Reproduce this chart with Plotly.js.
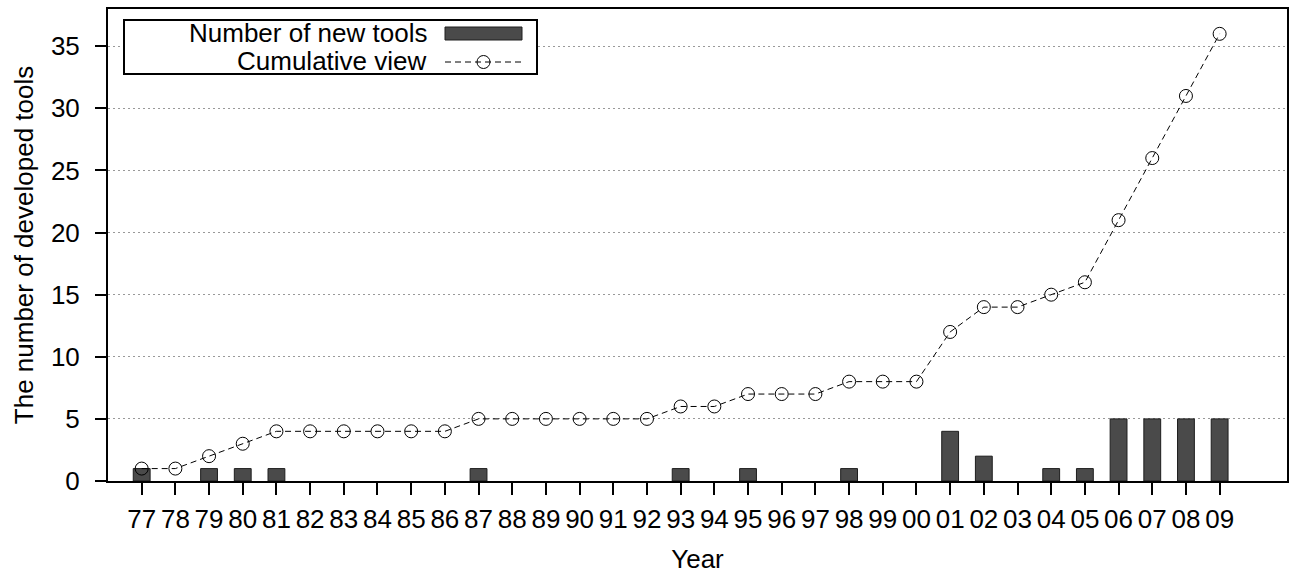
<!DOCTYPE html>
<html>
<head>
<meta charset="utf-8">
<script src="https://cdn.plot.ly/plotly-3.0.1.min.js"></script>
<style>html,body{margin:0;padding:0;background:#fff;}#chart{width:1293px;height:575px;}</style>
</head>
<body>
<div id="chart"></div>
<script>
const years = ['77','78','79','80','81','82','83','84','85','86','87','88','89','90','91','92','93','94','95','96','97','98','99','00','01','02','03','04','05','06','07','08','09'];
const newTools = [1,0,1,1,1,0,0,0,0,0,1,0,0,0,0,0,1,0,1,0,0,1,0,0,4,2,0,1,1,5,5,5,5];
const cumulative = [1,1,2,3,4,4,4,4,4,4,5,5,5,5,5,5,6,6,7,7,7,8,8,8,12,14,14,15,16,21,26,31,36];
const seriesNames = ['Number of new tools', 'Cumulative view'];
const xTitle = 'Year';
const yTitle = 'The number of developed tools';

const FONT = 'Liberation Sans, Arial, Helvetica, sans-serif';

const traces = [
  {
    type: 'bar', x: years, y: newTools.map(v => v === 0 ? null : v), name: seriesNames[0], width: 0.5,
    marker: {color: '#4a4a4a', line: {color: '#1e1e1e', width: 1}},
    showlegend: false, hoverinfo: 'x+y'
  },
  {
    type: 'scatter', mode: 'lines+markers', x: years, y: cumulative, name: seriesNames[1],
    line: {color: '#000', width: 1, dash: '6px,4px'},
    marker: {symbol: 'circle-open', size: 13, color: '#000', line: {width: 1, color: '#000'}},
    showlegend: false, cliponaxis: false
  }
];

// plot area pixel geometry (for legend drawn with shapes)
const L = 108, R = 1287, T = 9, B = 481;
const px = v => (v - L) / (R - L);
const py = v => (B - v) / (B - T);

const shapes = [
  {type: 'rect', xref: 'paper', yref: 'paper', x0: px(124), x1: px(537), y0: py(74), y1: py(20),
   line: {color: '#000', width: 2}, fillcolor: '#fff', layer: 'above'},
  {type: 'rect', xref: 'paper', yref: 'paper', x0: px(445), x1: px(522), y0: py(40), y1: py(27),
   line: {color: '#1e1e1e', width: 1}, fillcolor: '#4a4a4a', layer: 'above'},
  {type: 'line', xref: 'paper', yref: 'paper', x0: px(445), x1: px(522), y0: py(62), y1: py(62),
   line: {color: '#000', width: 1, dash: '6px,4px'}, layer: 'above'},
  {type: 'circle', xref: 'paper', yref: 'paper', x0: px(477), x1: px(490), y0: py(68.5), y1: py(55.5),
   line: {color: '#000', width: 1}, layer: 'above'}
];

const annotations = [
  {xref: 'paper', yref: 'paper', x: px(429), y: py(33), xanchor: 'right', yanchor: 'middle',
   text: seriesNames[0], showarrow: false, font: {family: FONT, size: 26, color: '#000'}},
  {xref: 'paper', yref: 'paper', x: px(429), y: py(61), xanchor: 'right', yanchor: 'middle',
   text: seriesNames[1], showarrow: false, font: {family: FONT, size: 26, color: '#000'}}
];

const layout = {
  width: 1293, height: 575,
  margin: {l: L, r: 1293 - R, t: T, b: 575 - B, pad: 0},
  paper_bgcolor: '#fff', plot_bgcolor: '#fff',
  font: {family: FONT, size: 26, color: '#000'},
  showlegend: false,
  bargap: 0.5,
  xaxis: {
    type: 'category', range: [-1, 34], categoryorder: 'array', categoryarray: years,
    ticks: 'outside', ticklen: 12, tickwidth: 2, tickcolor: '#000',
    showline: true, linecolor: '#000', linewidth: 2, mirror: true,
    showgrid: false, zeroline: false,
    tickfont: {family: FONT, size: 26, color: '#000'},
    ticklabelstandoff: 2,
    title: {text: xTitle, font: {family: FONT, size: 26, color: '#000'}, standoff: 17}
  },
  yaxis: {
    range: [0, 38], tickvals: [0,5,10,15,20,25,30,35],
    ticks: 'outside', ticklen: 11, tickwidth: 2, tickcolor: '#000',
    showline: true, linecolor: '#000', linewidth: 2, mirror: true,
    showgrid: true, gridcolor: '#999', gridwidth: 1, griddash: '2px,3px',
    zeroline: false,
    tickfont: {family: FONT, size: 26, color: '#000'},
    ticklabelstandoff: 10,
    title: {text: yTitle, font: {family: FONT, size: 26, color: '#000'}, standoff: 10}
  },
  shapes: shapes,
  annotations: annotations
};

Plotly.newPlot('chart', traces, layout, {displayModeBar: false, staticPlot: true});
</script>
</body>
</html>
